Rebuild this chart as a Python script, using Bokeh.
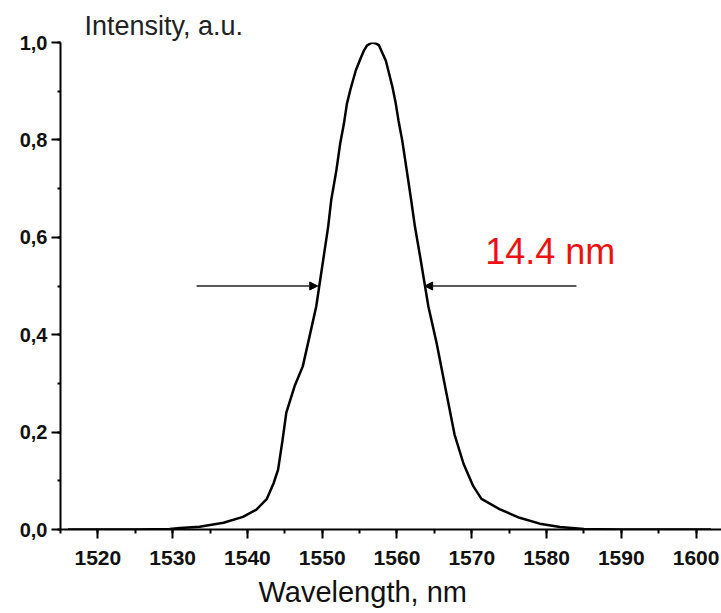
from bokeh.plotting import figure
from bokeh.models import (Range1d, SingleIntervalTicker, CustomJSTickFormatter,
                          Arrow, NormalHead, Title, Label)
from bokeh.embed import file_html
from bokeh.resources import INLINE

# ---- data ----
wavelength = [1516.0, 1525.0, 1529.6, 1531.0, 1533.6, 1536.8, 1539.4, 1541.2,
              1542.6, 1543.5, 1544.1, 1544.7, 1545.2, 1546.3, 1547.4, 1548.3,
              1549.2, 1550.0, 1550.8, 1551.2, 1551.9, 1552.4, 1552.9, 1553.3,
              1553.8, 1554.5, 1555.1, 1555.6, 1556.0, 1556.7, 1557.2, 1557.6,
              1558.0, 1558.5, 1558.9, 1559.4, 1559.8, 1560.2, 1560.7, 1561.3,
              1561.9, 1562.4, 1563.1, 1564.2, 1565.3, 1566.6, 1567.7, 1568.9,
              1570.2, 1571.3, 1573.7, 1576.4, 1579.1, 1581.8, 1585.0, 1590.0,
              1602.0]
intensity = [0.0, 0.0, 0.001, 0.003, 0.0055, 0.014, 0.026, 0.041,
             0.063, 0.095, 0.123, 0.184, 0.240, 0.294, 0.335, 0.396,
             0.458, 0.54, 0.622, 0.676, 0.738, 0.792, 0.833, 0.874,
             0.905, 0.943, 0.966, 0.984, 0.994, 1.0, 0.998, 0.994,
             0.980, 0.963, 0.939, 0.908, 0.878, 0.840, 0.799, 0.738,
             0.676, 0.622, 0.56, 0.458, 0.383, 0.281, 0.195, 0.135,
             0.089, 0.063, 0.042, 0.024, 0.012, 0.005, 0.001, 0.0,
             0.0]

half_max = 0.5
fwhm_left = 1549.4
fwhm_right = 1563.7
arrow_left_start = 1533.2
arrow_right_start = 1584.0
fwhm_text = "14.4 nm"
x_label = "Wavelength, nm"
y_label = "Intensity, a.u."

FONT = "Liberation Sans"

p = figure(width=721, height=613,
           x_range=Range1d(1515, 1603.4), y_range=Range1d(0, 1.0),
           output_backend="svg", toolbar_location=None,
           min_border_left=60, min_border_right=0,
           min_border_top=42, min_border_bottom=83)
p.outline_line_color = None
p.xgrid.visible = False
p.ygrid.visible = False
p.background_fill_color = "white"
p.border_fill_color = "white"

p.title = Title(text=y_label, align="left", offset=24,
                text_font=FONT, text_font_size="27px", text_font_style="normal",
                text_color="#222222", standoff=4)

p.line(wavelength, intensity, line_color="black", line_width=2.5,
       line_join="round")

# arrows marking the FWHM
p.add_layout(Arrow(x_start=arrow_left_start, y_start=half_max,
                   x_end=fwhm_left, y_end=half_max,
                   line_color="#222222", line_width=1.6,
                   end=NormalHead(size=8, fill_color="black", line_color="black")))
p.add_layout(Arrow(x_start=arrow_right_start, y_start=half_max,
                   x_end=fwhm_right, y_end=half_max,
                   line_color="#222222", line_width=1.6,
                   end=NormalHead(size=8, fill_color="black", line_color="black")))

p.add_layout(Label(x=1571.8, y=0.570, text=fwhm_text, text_color="#ee1111",
                   text_font=FONT, text_font_size="36px",
                   text_baseline="alphabetic"))

# x axis
xa = p.xaxis[0]
xa.ticker = SingleIntervalTicker(interval=10, num_minor_ticks=2)
xa.axis_line_width = 2
xa.major_tick_line_width = 2
xa.minor_tick_line_width = 2
xa.major_tick_in = 0
xa.major_tick_out = 9
xa.minor_tick_in = 0
xa.minor_tick_out = 4
xa.major_label_text_font = FONT
xa.major_label_text_font_style = "bold"
xa.major_label_text_font_size = "21px"
xa.major_label_text_color = "#111111"
xa.major_label_standoff = 12

p.add_layout(Title(text=x_label, align="left", offset=198,
                   text_font=FONT, text_font_size="29px", text_font_style="normal",
                   text_color="#111111", standoff=12, text_line_height=0.7),
             "below")

# y axis
ya = p.yaxis[0]
ya.ticker = SingleIntervalTicker(interval=0.2, num_minor_ticks=2)
ya.formatter = CustomJSTickFormatter(code="return tick.toFixed(1).replace('.', ',');")
ya.axis_line_width = 2
ya.major_tick_line_width = 2
ya.minor_tick_line_width = 2
ya.major_tick_in = 0
ya.major_tick_out = 9
ya.minor_tick_in = 0
ya.minor_tick_out = 3
ya.major_label_text_font = FONT
ya.major_label_text_font_style = "bold"
ya.major_label_text_font_size = "20px"
ya.major_label_text_color = "#111111"
ya.major_label_standoff = 4

open("out.html", "w").write(file_html(p, INLINE))
